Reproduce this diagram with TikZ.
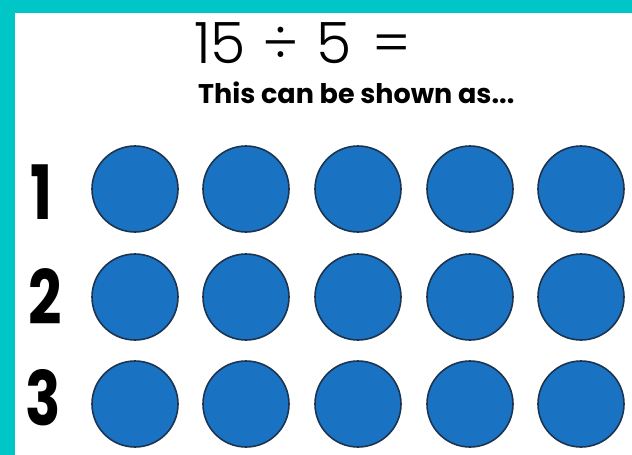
\documentclass[tikz,border=0pt]{standalone}
\usepackage{fontspec}
\usepackage{tikz}
\usetikzlibrary{positioning,backgrounds}
\setmainfont{Poppins}
\newfontfamily\thinfont{Poppins Light}
\definecolor{frameteal}{HTML}{00C6C8}
\definecolor{dotblue}{HTML}{1A72C2}
\definecolor{dotedge}{HTML}{1C3450}
\newcommand{\narrow}[1]{\scalebox{0.78}[1]{#1}}

\begin{document}
\begin{tikzpicture}[
  x=1pt, y=-1pt,
  dot/.style   = {circle, draw=dotedge, fill=dotblue, line width=1.6pt,
                  minimum size=86pt, inner sep=0pt},
  rownum/.style= {font=\fontsize{75}{75}\selectfont\bfseries, inner sep=0pt,
                  text depth=0pt, anchor=base},
  eqtext/.style= {font=\fontsize{57}{57}\thinfont, inner sep=0pt, anchor=base west},
  subtext/.style={font=\fontsize{27}{27}\selectfont\bfseries, inner sep=0pt,
                  anchor=base west}
]

% frame
\useasboundingbox (0,0) rectangle (632,455);
\fill[white] (0,0) rectangle (632,455);
\fill[frameteal] (0,0) rectangle (632,13);
\fill[frameteal] (0,0) rectangle (15,455);

% heading
\node[eqtext] (eqn) at (194,63) {15\hspace{1pt} ÷\hspace{2pt} 5\hspace{5pt} =};
\node[subtext] (sub) at (198,103) {This can be shown as...};

% row numbers
\node[rownum] (n1) at (41,219) {\narrow{1}};
\node[rownum] (n2) at (45,324) {\narrow{2}};
\node[rownum] (n3) at (43,425) {\narrow{3}};

% counters
\node[dot] (c11) at (135,189) {};
\node[dot] (c12) at (246,189) {};
\node[dot] (c13) at (358,189) {};
\node[dot] (c14) at (470,189) {};
\node[dot] (c15) at (581,189) {};

\node[dot] (c21) at (135,297) {};
\node[dot] (c22) at (246,297) {};
\node[dot] (c23) at (358,297) {};
\node[dot] (c24) at (470,297) {};
\node[dot] (c25) at (581,297) {};

\node[dot] (c31) at (135,404) {};
\node[dot] (c32) at (246,404) {};
\node[dot] (c33) at (358,404) {};
\node[dot] (c34) at (470,404) {};
\node[dot] (c35) at (581,404) {};

\end{tikzpicture}
\end{document}
